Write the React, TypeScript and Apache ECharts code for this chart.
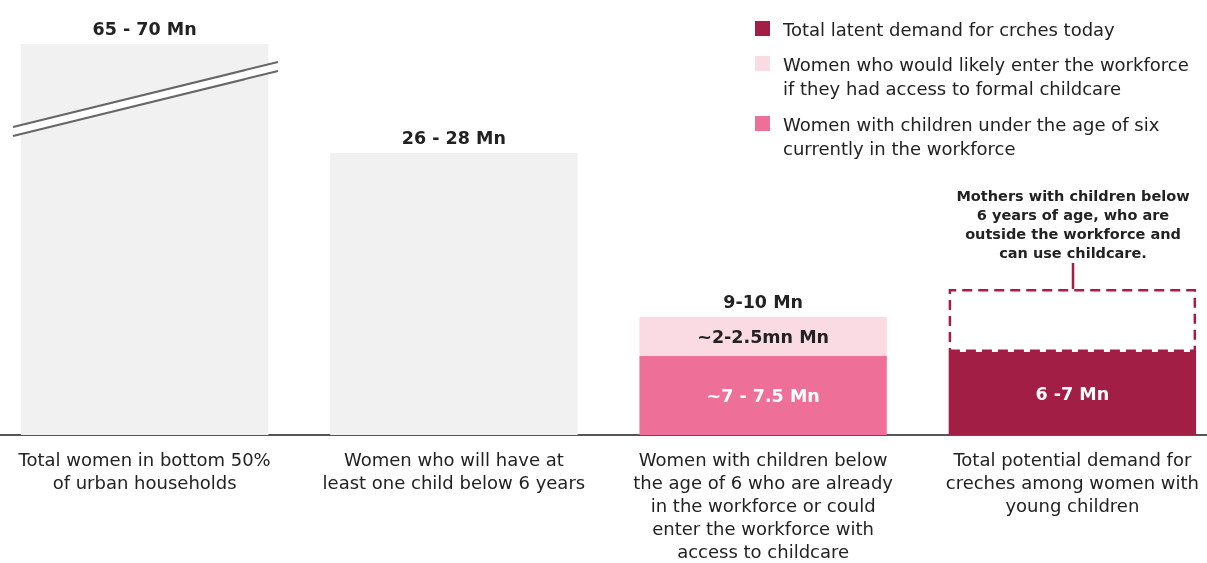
import React, { useEffect, useRef } from "react";
import * as echarts from "echarts";

// Categories (x axis)
const categories = [
  "Total women in bottom 50%\nof urban households",
  "Women who will have at\nleast one child below 6 years",
  "Women with children below\nthe age of 6 who are already\nin the workforce or could\nenter the workforce with\naccess to childcare",
  "Total potential demand for\ncreches among women with\nyoung children",
];

// Drawn bar heights (chart is not to scale; heights as shown in the picture)
const grayHeights = [39.1, 28.2, null, null];
const inWorkforceHeights = [null, null, 7.9, null];
const latentDemandHeights = [null, null, null, 8.3];
const wouldEnterHeights = [null, null, 3.9, null];
const outsideHeights = [null, null, null, 6.3];

// Value labels
const grayLabels = ["65 - 70 Mn", "26 - 28 Mn", "", ""];
const inWorkforceLabels = ["", "", "~7 - 7.5 Mn", ""];
const latentDemandLabels = ["", "", "", "6 -7 Mn"];
const wouldEnterLabels = ["", "", "~2-2.5mn Mn", ""];
const totalLabels = ["", "", "9-10 Mn", ""];

const legendItems = [
  { name: "Total latent demand for crches today", color: "#a31e45" },
  { name: "Women who would likely enter the workforce\nif they had access to formal childcare", color: "#fadbe3" },
  { name: "Women with children under the age of six\ncurrently in the workforce", color: "#ee7099" },
];

const annotation = "Mothers with children below\n6 years of age, who are\noutside the workforce and\ncan use childcare.";

const FONT = "'DejaVu Sans'";
const OFF = 10; // container is shifted left by this many px

export default function App() {
  const ref = useRef<HTMLDivElement>(null);
  useEffect(() => {
    if (!ref.current) return;
    const chart = echarts.init(ref.current, undefined, { renderer: "svg" });
    const toData = (arr: (number | null)[]) => arr.map((v) => (v === null ? "-" : v));
    const valueLabel = (labels: string[], color: string, position: string) => ({
      show: true,
      position,
      distance: 6,
      color,
      fontFamily: FONT,
      fontWeight: "bold",
      fontSize: 17.5,
      formatter: (p: any) => labels[p.dataIndex],
    });
    const legendGraphics: any[] = [];
    const tops = [18, 53, 113];
    legendItems.forEach((it, i) => {
      legendGraphics.push({
        type: "rect",
        z: 100,
        shape: { x: 755 + OFF, y: tops[i] + 3, width: 15, height: 15 },
        style: { fill: it.color },
      });
      legendGraphics.push({
        type: "text",
        z: 100,
        x: 783 + OFF,
        y: tops[i] - 1,
        style: {
          text: it.name,
          font: `18px ${FONT}`,
          fill: "#222",
          lineHeight: 24,
          verticalAlign: "top",
        },
      });
    });
    chart.setOption({
      animation: false,
      grid: { left: 0, right: 0, top: 35, bottom: 128, outerBoundsMode: "none", containLabel: false },
      xAxis: {
        type: "category",
        data: categories,
        axisTick: { show: false },
        axisLine: { lineStyle: { color: "#555", width: 2 } },
        axisLabel: {
          interval: 0,
          margin: 13,
          fontFamily: FONT,
          fontSize: 18,
          lineHeight: 23,
          color: "#222",
          verticalAlign: "top",
        },
      },
      yAxis: { type: "value", min: 0, max: 40, show: false, splitLine: { show: false } },
      series: [
        {
          type: "bar",
          stack: "s",
          barCategoryGap: "20%",
          data: toData(grayHeights),
          itemStyle: { color: "#f1f1f1" },
          label: valueLabel(grayLabels, "#222", "top"),
        },
        {
          type: "bar",
          name: "Women with children under the age of six currently in the workforce",
          stack: "s",
          data: toData(inWorkforceHeights),
          itemStyle: { color: "#ee7099" },
          label: valueLabel(inWorkforceLabels, "#fff", "inside"),
        },
        {
          type: "bar",
          name: "Total latent demand for crches today",
          stack: "s",
          data: toData(latentDemandHeights),
          itemStyle: { color: "#a31e45" },
          label: valueLabel(latentDemandLabels, "#fff", "inside"),
        },
        {
          type: "bar",
          name: "Women who would likely enter the workforce if they had access to formal childcare",
          stack: "s",
          data: toData(wouldEnterHeights),
          itemStyle: { color: "#fadbe3" },
          label: valueLabel(wouldEnterLabels, "#222", "inside"),
        },
        {
          type: "bar",
          name: "Outside the workforce",
          stack: "s",
          data: toData(outsideHeights),
          itemStyle: {
            color: "rgba(255,255,255,0)",
            borderColor: "#a31e45",
            borderWidth: 2.5,
            borderType: [10, 6],
          },
        },
        {
          type: "bar",
          name: "Total",
          stack: "s",
          data: [0, 0, 0, 0].map((v, i) => (totalLabels[i] ? v : "-")),
          itemStyle: { color: "transparent" },
          label: valueLabel(totalLabels, "#222", "top"),
        },
      ],
      graphic: [
        {
          type: "polygon",
          z: 100,
          shape: { points: [[13 + OFF, 126], [278 + OFF, 62], [278 + OFF, 71], [13 + OFF, 136]] },
          style: { fill: "#fff" },
        },
        { type: "line", z: 101, shape: { x1: 13 + OFF, y1: 127, x2: 278 + OFF, y2: 62 }, style: { stroke: "#666", lineWidth: 2 } },
        { type: "line", z: 101, shape: { x1: 13 + OFF, y1: 136, x2: 278 + OFF, y2: 71 }, style: { stroke: "#666", lineWidth: 2 } },
        {
          type: "text",
          z: 100,
          x: 1073 + OFF,
          y: 186,
          style: {
            text: annotation,
            font: `bold 14.5px ${FONT}`,
            fill: "#222",
            align: "center",
            verticalAlign: "top",
            lineHeight: 19,
          },
        },
        { type: "line", z: 100, shape: { x1: 1073 + OFF, y1: 263, x2: 1073 + OFF, y2: 289 }, style: { stroke: "#a31e45", lineWidth: 2.5 } },
        ...legendGraphics,
      ],
    });
    return () => chart.dispose();
  }, []);
  return <div ref={ref} style={{ position: "fixed", left: -OFF, top: 0, width: 1237, height: 563 }} />;
}
